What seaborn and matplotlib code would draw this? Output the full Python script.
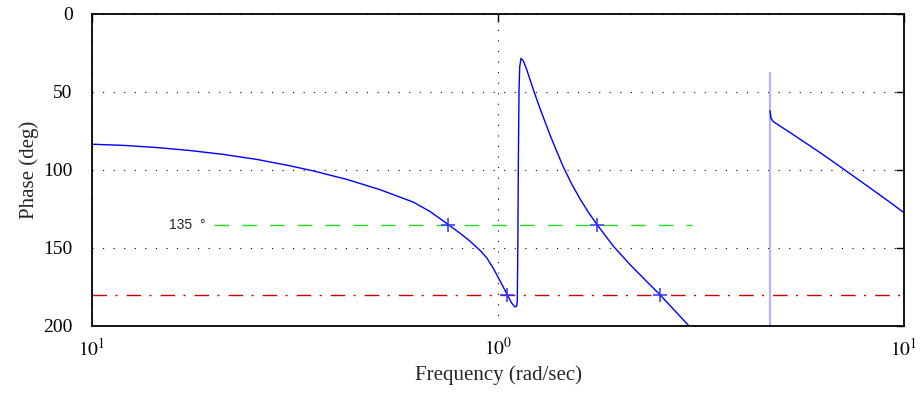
import numpy as np
import pandas as pd
import matplotlib
matplotlib.use("Agg")
import matplotlib.pyplot as plt
import seaborn as sns

# Phase curve (shown as positive degrees, axis inverted)
freq_a = [0.100, 0.1194, 0.1443, 0.1743, 0.2105, 0.2544, 0.3074, 0.3509, 0.4239,
          0.5122, 0.6186, 0.6802, 0.7544, 0.8061, 0.8531, 0.9030, 0.9380, 0.9737,
          1.0114, 1.0541, 1.0807, 1.1012, 1.1119, 1.1156, 1.1190, 1.1220, 1.1265,
          1.1309, 1.1394, 1.1541, 1.1766, 1.1989, 1.2333, 1.2688, 1.3430, 1.3951,
          1.4481, 1.5188, 1.5922, 1.6689, 1.7535, 1.9231, 2.1139, 2.3247, 2.5061,
          2.7555, 2.9546, 3.145]
phase_a = [83.5, 84.2, 85.6, 87.5, 90.0, 93.2, 97.3, 100.6, 106.0,
           112.6, 120.6, 126.6, 135.0, 140.5, 145.6, 151.5, 156.3, 163.0,
           171.0, 180.0, 185.3, 187.8, 187.2, 184.0, 150.0, 100.0, 50.0,
           34.0, 28.4, 30.0, 35.5, 42.0, 51.5, 60.5, 77.5, 88.0,
           98.0, 109.0, 118.5, 127.0, 135.0, 148.8, 160.6, 171.5, 180.0,
           191.5, 200.0, 207.5]

# wrap segment
freq_wrap = [4.677, 4.677]
phase_wrap = [38.0, 215.0]

freq_b = [4.677, 4.704, 4.766, 5.240, 5.759, 6.329, 6.958, 7.646, 8.403, 9.237, 10.0]
phase_b = [62.0, 66.9, 69.0, 76.0, 83.1, 90.3, 97.8, 105.4, 113.0, 120.7, 127.4]

# crossing markers
mark_freq = [0.7544, 1.0541, 1.7535, 2.5061]
mark_phase = [135, 180, 135, 180]

# reference lines
ref135_freq = [0.2, 3.0]
ref135_phase = [135, 135]
ref180_freq = [0.1, 10.0]
ref180_phase = [180, 180]

yticks = [0, 50, 100, 150, 200]
xticks = [0.1, 1, 10]
xticklabels = [r"$10^{1}$", r"$10^{0}$", r"$10^{1}$"]

sns.set_style("white")
plt.rcParams["font.family"] = ["Liberation Serif", "DejaVu Serif"]
plt.rcParams["mathtext.fontset"] = "stix"

fig, ax = plt.subplots(figsize=(9.21, 3.96), dpi=100)
fig.subplots_adjust(left=92/921, right=904/921, bottom=1-326/396, top=1-14/396)

ax.set_xscale("log")

df_a = pd.DataFrame({"freq": freq_a, "phase": phase_a})
df_b = pd.DataFrame({"freq": freq_b, "phase": phase_b})
df_w = pd.DataFrame({"freq": freq_wrap, "phase": phase_wrap})

sns.lineplot(data=df_w, x="freq", y="phase", color="#b4b4ff", lw=1.6,
             sort=False, estimator=None, ax=ax)
sns.lineplot(data=df_a, x="freq", y="phase", color="#0000ff", lw=1.0,
             sort=False, estimator=None, ax=ax)
sns.lineplot(data=df_b, x="freq", y="phase", color="#0000ff", lw=1.0,
             sort=False, estimator=None, ax=ax)

# reference lines
ax.plot(ref135_freq, ref135_phase, color="#22dd22", lw=1.0, dashes=(10.5, 9.5))
ax.plot(ref180_freq, ref180_phase, color="#cc0000", lw=1.0,
        dashes=(10.5, 6, 1.5, 6.5))
ax.plot(mark_freq, mark_phase, ls="none", marker="+", ms=10, mew=1.1,
        color="#3030ff")

ax.text(0.155, 135, "135  \u00b0", family=["Liberation Sans", "DejaVu Sans"],
        fontsize=10, va="center", ha="left")

ax.set_xlim(0.1, 10)
ax.set_ylim(200, 0)
ax.set_xticks(xticks)
ax.set_xticklabels(xticklabels)
ax.xaxis.set_minor_locator(matplotlib.ticker.NullLocator())
ax.set_yticks(yticks)

ax.grid(True, which="major", color="black", lw=0.8, linestyle=(0, (1, 8.5)))
ax.tick_params(direction="in", length=6, width=1, top=True, right=True,
               labelsize=14, colors="black")
ax.tick_params(axis="y", pad=14)
ax.tick_params(axis="x", pad=8)
for s in ax.spines.values():
    s.set_color("black")
    s.set_linewidth(1.3)

ax.set_xlabel("Frequency (rad/sec)", fontsize=15, labelpad=4)
ax.set_ylabel("Phase (deg)", fontsize=15, labelpad=3)

fig.savefig("out.png", dpi=100)
